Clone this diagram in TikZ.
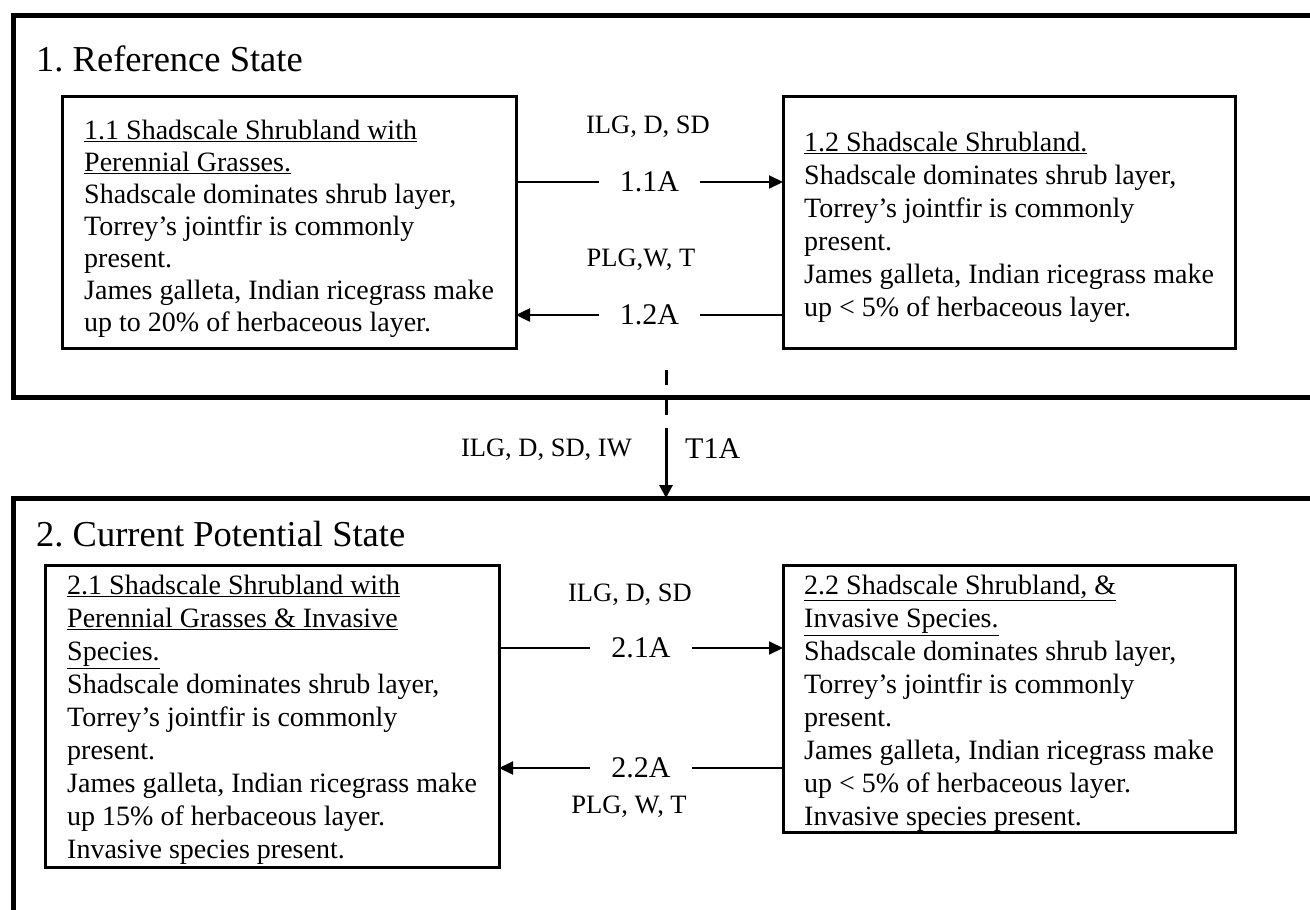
\documentclass[tikz,border=0pt]{standalone}
\usepackage{fontspec}
\setmainfont{Liberation Serif}
\usetikzlibrary{arrows.meta}
\frenchspacing
\begin{document}
\begin{tikzpicture}[x=1pt,y=-1pt,
  stateframe/.style={draw, line width=5pt, inner sep=0pt, outer sep=0pt, anchor=north west},
  statebox/.style={draw, line width=3pt, inner sep=0pt, outer sep=0pt, anchor=north west, fill=white},
  boxtext/.style={anchor=north west, inner sep=0pt, align=left, font=\fontsize{28}{33}\selectfont},
  statetitle/.style={anchor=base west, inner sep=0pt, font=\fontsize{36.5}{40}\selectfont},
  lab/.style={anchor=base, inner sep=0pt, font=\fontsize{26.5}{30}\selectfont},
  codelab/.style={fill=white, inner xsep=21pt, inner ysep=2pt, font=\fontsize{30}{34}\selectfont},
  trans/.style={line width=2pt, -{Triangle[length=14pt,width=13pt]}},
]
\clip (0,0) rectangle (1310,910);
\fill[white] (0,0) rectangle (1310,910);

% state frames
\node[stateframe, minimum width=1330pt, minimum height=382pt] (s1) at (13,15) {};
\node[stateframe, minimum width=1330pt, minimum height=450pt] (s2) at (13,498) {};

\node[statetitle] (t1) at (36,71) {1. Reference State};
\node[statetitle] (t2) at (36,546) {2. Current Potential State};

% community boxes
\node[statebox, minimum width=454pt, minimum height=252pt] (b11) at (62,96) {};
\node[statebox, minimum width=452pt, minimum height=252pt] (b12) at (783,96) {};
\node[statebox, minimum width=454pt, minimum height=302pt] (b21) at (45,565) {};
\node[statebox, minimum width=452pt, minimum height=267pt] (b22) at (783,565) {};

\node[boxtext, font=\fontsize{28}{32}\selectfont] (x11) at (84,120) {%
\underline{1.1 Shadscale Shrubland with}\\
\underline{Perennial Grasses.}\\
Shadscale dominates shrub layer,\\
Torrey’s jointfir is commonly\\
present.\\
James galleta, Indian ricegrass make\\
up to 20\% of herbaceous layer.};

\node[boxtext] (x12) at (804,132) {%
\underline{1.2 Shadscale Shrubland.}\\
Shadscale dominates shrub layer,\\
Torrey’s jointfir is commonly\\
present.\\
James galleta, Indian ricegrass make\\
up < 5\% of herbaceous layer.};

\node[boxtext] (x21) at (67,575) {%
\underline{2.1 Shadscale Shrubland with}\\
\underline{Perennial Grasses \& Invasive}\\
\underline{Species.}\\
Shadscale dominates shrub layer,\\
Torrey’s jointfir is commonly\\
present.\\
James galleta, Indian ricegrass make\\
up 15\% of herbaceous layer.\\
Invasive species present.};

\node[boxtext] (x22) at (804,575) {%
\underline{2.2 Shadscale Shrubland, \&}\\
\underline{Invasive Species.}\\
Shadscale dominates shrub layer,\\
Torrey’s jointfir is commonly\\
present.\\
James galleta, Indian ricegrass make\\
up < 5\% of herbaceous layer.\\
Invasive species present.};

% transition labels
\node[lab] (l1) at (648,133.5) {ILG, D, SD};
\node[lab] (l2) at (641,266.5) {PLG,W, T};
\node[lab] (l3) at (630,601.5) {ILG, D, SD};
\node[lab] (l4) at (629,813.5) {PLG, W, T};
\node[lab, anchor=base east] (l5) at (632,456.5) {ILG, D, SD, IW};
\node[anchor=base west, inner sep=0pt, font=\fontsize{30}{34}\selectfont] (l6) at (685,458) {T1A};

% community pathways
\draw[trans] ([yshift=-86pt]b11.north east) -- node[codelab] (p11) {1.1A} ([yshift=-86pt]b12.north west);
\draw[trans, line width=2.5pt] ([yshift=33pt]b12.south west) -- node[codelab] (p12) {1.2A} ([yshift=33pt]b11.south east);
\draw[trans] ([yshift=-83pt]b21.north east) -- node[codelab] (p21) {2.1A} ([yshift=-83pt]b22.north west);
\draw[trans] ([yshift=-203pt]b22.north west) -- node[codelab] (p22) {2.2A} ([yshift=-203pt]b21.north east);

% transition T1A
\coordinate (d0) at (666,370);
\coordinate (d1) at (666,428);
\draw[line width=3pt, dash pattern=on 15pt off 15pt] (d0) -- (d1);
\draw[line width=3pt, -{Triangle[length=13pt,width=13pt]}] (d1) -- (d1 |- s2.north);
\end{tikzpicture}
\end{document}
